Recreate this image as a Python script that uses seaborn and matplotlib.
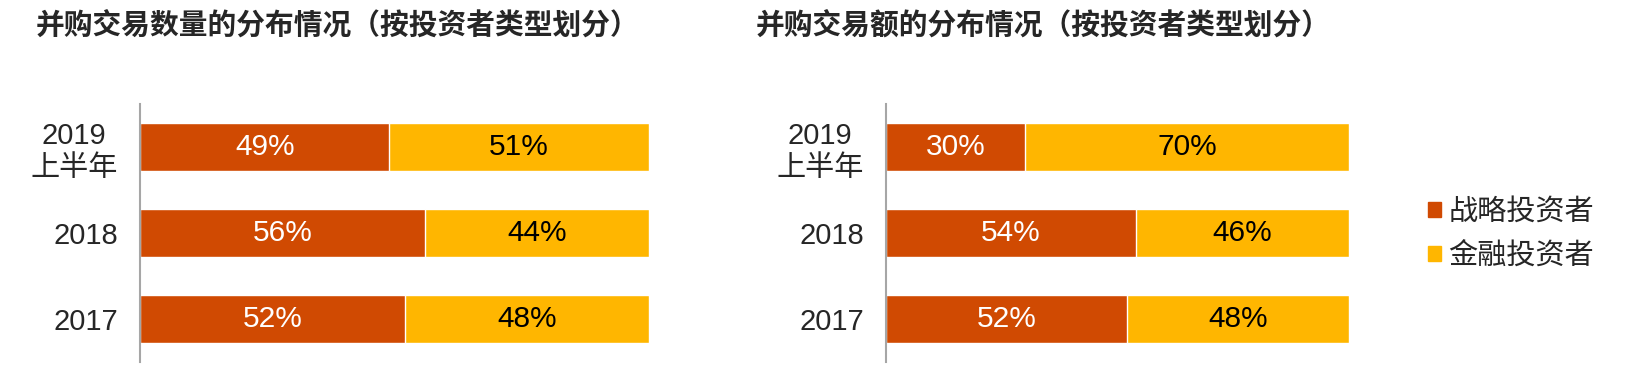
import matplotlib
matplotlib.use("Agg")
import matplotlib.pyplot as plt
import seaborn as sns
import pandas as pd

# data
periods = ["2019\n上半年", "2018", "2017"]
count_strategic = [49, 56, 52]
count_financial = [51, 44, 48]
value_strategic = [30, 54, 52]
value_financial = [70, 46, 48]
series_names = ["战略投资者", "金融投资者"]
titles = ["并购交易数量的分布情况（按投资者类型划分）", "并购交易额的分布情况（按投资者类型划分）"]

RED = "#D04A02"
YELLOW = "#FFB600"

sns.set_style("white")
plt.rcParams["font.family"] = ["Liberation Sans", "Noto Sans CJK SC", "DejaVu Sans"]

fig = plt.figure(figsize=(16.3, 3.78), dpi=100)
ax1 = fig.add_axes([140 / 1630, 16 / 378, 509 / 1630, 258 / 378])
ax2 = fig.add_axes([886 / 1630, 16 / 378, 463 / 1630, 258 / 378])


def draw(ax, strategic, financial):
    df = pd.DataFrame({"period": periods, "strategic": strategic, "financial": financial})
    df["total"] = df["strategic"] + df["financial"]
    sns.barplot(data=df, x="total", y="period", color=YELLOW, width=0.55,
                saturation=1, ax=ax, order=periods)
    sns.barplot(data=df, x="strategic", y="period", color=RED, width=0.55,
                saturation=1, ax=ax, order=periods)
    for i, row in df.iterrows():
        ax.text(row["strategic"] / 2, i, f"{row['strategic']}%", ha="center", va="center",
                color="white", fontsize=21.5)
        ax.text(row["strategic"] + row["financial"] / 2, i, f"{row['financial']}%",
                ha="center", va="center", color="black", fontsize=21.5)
    ax.set_xlim(0, 100)
    ax.set_ylim(2.5, -0.5)
    ax.set_xlabel("")
    ax.set_ylabel("")
    ax.set_xticks([])
    for s in ["top", "right", "bottom"]:
        ax.spines[s].set_visible(False)
    ax.spines["left"].set_color("#A6A6A6")
    ax.spines["left"].set_linewidth(1.5)
    ax.tick_params(axis="y", length=0, pad=16, labelsize=21)
    for lab in ax.get_yticklabels():
        lab.set_multialignment("center")
        lab.set_linespacing(1.2)


draw(ax1, count_strategic, count_financial)
draw(ax2, value_strategic, value_financial)

fig.text(36 / 1630, 1 - 26 / 378, titles[0], fontsize=20.7, fontweight="bold", va="center")
fig.text(756 / 1630, 1 - 26 / 378, titles[1], fontsize=20.7, fontweight="bold", va="center")

handles = [plt.Rectangle((0, 0), 1, 1, color=RED), plt.Rectangle((0, 0), 1, 1, color=YELLOW)]
fig.legend(handles, series_names, loc="center left", bbox_to_anchor=(1428 / 1630, 1 - 234 / 378),
           frameon=False, fontsize=21, handlelength=0.45, handleheight=0.45,
           handletextpad=0.25, labelspacing=0.55, borderpad=0, borderaxespad=0)

fig.savefig("out.png", dpi=100)
